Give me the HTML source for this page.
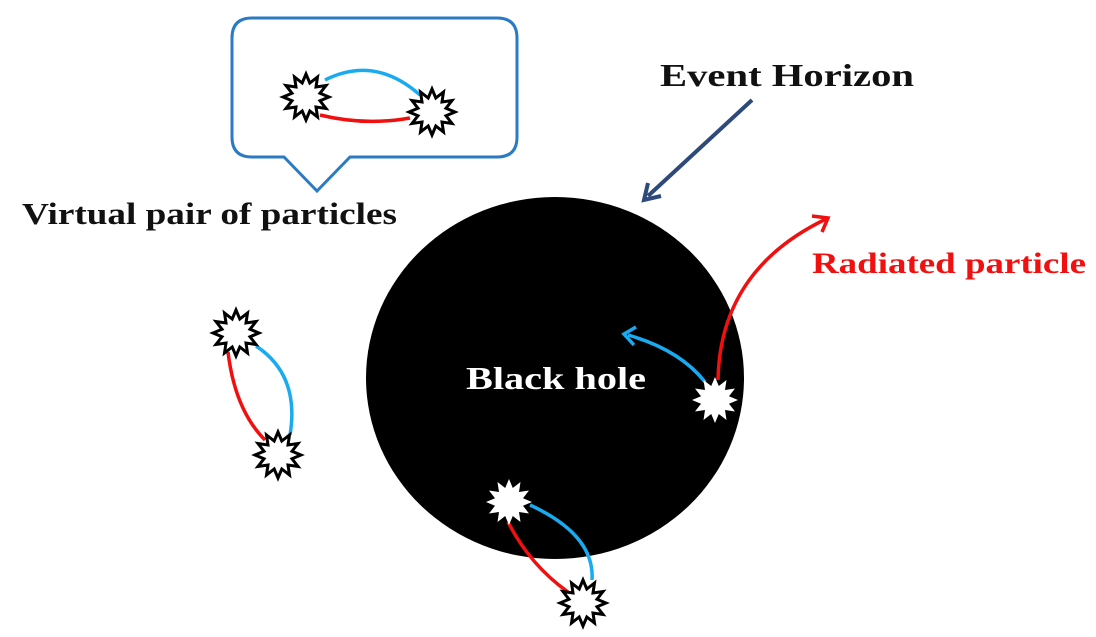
<!DOCTYPE html>
<html><head><meta charset="utf-8"><style>body{margin:0;background:#fff}svg{display:block}text{font-family:"Liberation Serif",serif;font-weight:bold}</style></head><body>
<svg width="1096" height="637" viewBox="0 0 1096 637">
<defs>
<polygon id="st" points="23,0 14,3.8 20,11.5 10,10 11.5,20 3.8,14 0,23 -3.8,14 -11.5,20 -10,10 -20,11.5 -14,3.8 -23,0 -14,-3.8 -20,-11.5 -10,-10 -11.5,-20 -3.8,-14 0,-23 3.8,-14 11.5,-20 10,-10 20,-11.5 14,-3.8"/>
</defs>
<ellipse cx="555" cy="378" rx="189" ry="181" fill="#000"/>
<path d="M252,18 H497 Q517,18 517,38 V137 Q517,157 497,157 H350 L317,191 L284,157 H252 Q232,157 232,137 V38 Q232,18 252,18 Z" fill="#fff" stroke="#2a7bc4" stroke-width="3"/>
<g fill="none" stroke-width="3.5">
<path d="M325,80 Q375,55 420,95" stroke="#19aaf0"/>
<path d="M320,115 Q365,126 410,118" stroke="#f01010"/>
<path d="M228,352 Q235,410 265,440" stroke="#f01010"/>
<path d="M256,346 Q300,375 290,435" stroke="#19aaf0"/>
<path d="M530,505 Q595,535 592,580" stroke="#19aaf0"/>
<path d="M508,522 Q530,565 568,592" stroke="#f01010"/>
<path d="M705,382 Q680,350 628,335" stroke="#19aaf0"/>
<path d="M636,327 L624,334 L634,345" stroke="#19aaf0"/>
<path d="M718,380 Q720,270 826,219" stroke="#f01010"/>
<path d="M812,216 L828,218 L822,232" stroke="#f01010"/>
<path d="M752,100 L648,196" stroke="#2e4a7a" stroke-width="4"/>
<path d="M648,183 L644,200 L661,196" stroke="#2e4a7a" stroke-width="4"/>
</g>
<g fill="#fff" stroke="#000" stroke-width="3">
<use href="#st" x="306" y="97"/>
<use href="#st" x="432" y="112"/>
<use href="#st" x="236" y="333"/>
<use href="#st" x="278" y="455"/>
<use href="#st" x="583" y="603"/>
</g>
<g fill="#fff">
<use href="#st" x="715" y="400"/>
<use href="#st" x="509" y="502"/>
</g>
<text x="660" y="86" font-size="32" fill="#111" textLength="254" lengthAdjust="spacingAndGlyphs">Event Horizon</text>
<text x="22" y="224" font-size="31" fill="#111" textLength="375" lengthAdjust="spacingAndGlyphs">Virtual pair of particles</text>
<text x="812" y="273" font-size="30" fill="#f01010" textLength="274" lengthAdjust="spacingAndGlyphs">Radiated particle</text>
<text x="466" y="389" font-size="32" fill="#fff" textLength="180" lengthAdjust="spacingAndGlyphs">Black hole</text>
</svg>
</body></html>
